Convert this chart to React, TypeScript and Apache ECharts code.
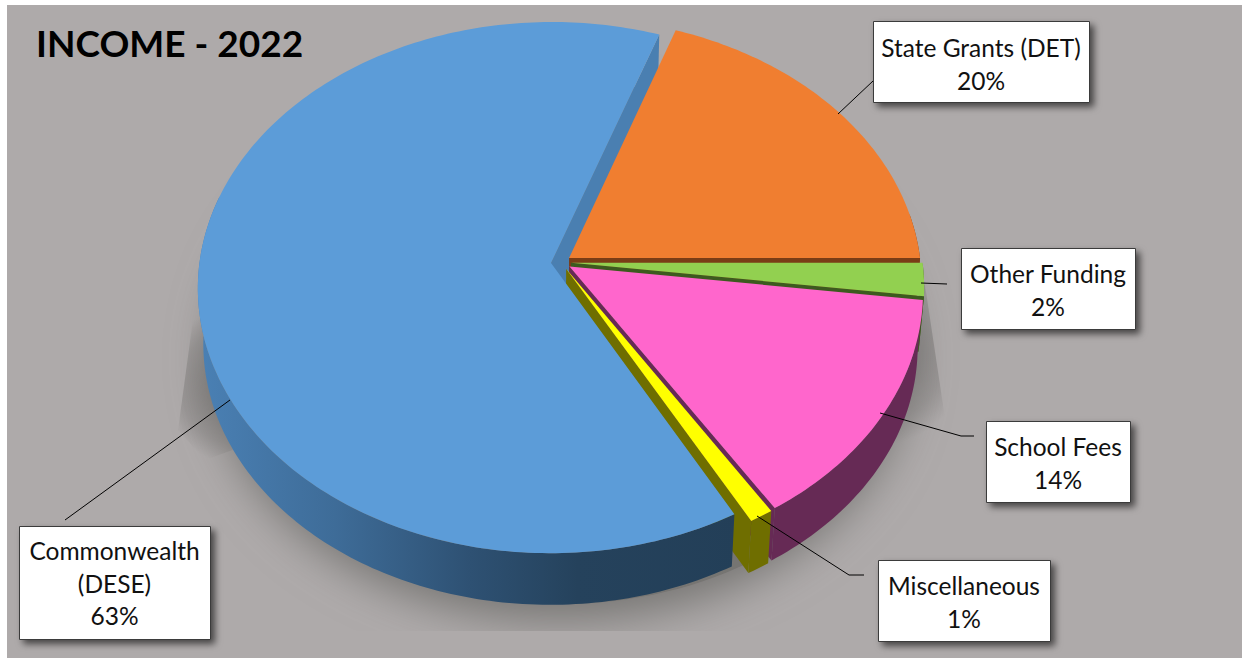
import React, { useEffect, useRef } from "react";
import * as echarts from "echarts";

const categories = ["State Grants (DET)", "Other Funding", "School Fees", "Miscellaneous", "Commonwealth\n(DESE)"];
const shares = [20, 2, 14, 1, 63];
const firstSliceAngle = 18;

const topColors = ["#f07e30", "#92d050", "#ff66cc", "#ffff00", "#5c9cd8"];
const wallColors = ["#7a3d16", "#3d5a1f", "#662a55", "#6f6e00", "#24405a"];

// Callout boxes, in the order of the categories.
const boxes = [
  { x: 873, y: 21, w: 216, h: 81, textY: 64, lead: [[838, 114], [873, 81]] },
  { x: 961, y: 248, w: 174, h: 81, textY: 290, lead: [[921, 283], [947, 284]] },
  { x: 986, y: 421, w: 144, h: 81, textY: 463, lead: [[880, 413], [961, 436], [974, 436]] },
  { x: 878, y: 560, w: 172, h: 81, textY: 602, lead: [[757, 516], [849, 575], [864, 575]] },
  { x: 19, y: 526, w: 191, h: 113, textY: 583, lead: [[230, 400], [65, 520]] },
];

// Perspective model of the pie: a unit disc seen from the front and above.
const CX = 561, CY = 262.4, RX = 351.5, RY = 263.2, TILT = 0.0922;
const EXPLODE = 0.0285, DEPTH = 56, FLOOR_SCALE = 0.985;
// The far rim of the disc drifts clockwise a little under the camera's lens.
const LENS_DRIFT = 1.75;

const total = shares.reduce((a, b) => a + b, 0);
const spans = shares.map((_, i) => {
  const before = shares.slice(0, i).reduce((a, b) => a + b, 0);
  return [firstSliceAngle + (before / total) * 360, firstSliceAngle + ((before + shares[i]) / total) * 360];
});

const rad = (d: number) => (d * Math.PI) / 180;

function lens(deg: number): number {
  const d = ((deg % 360) + 360) % 360;
  if (d < 90) return deg + (LENS_DRIFT * (90 - d)) / 90;
  if (d > 300) return deg + (LENS_DRIFT * (d - 300)) / 60;
  return deg;
}

function project(dx: number, dy: number, floor: boolean): number[] {
  const w = 1 - TILT * dy;
  const s = floor ? FLOOR_SCALE : 1;
  return [CX + (s * RX * dx) / w, CY + (floor ? DEPTH : 0) + (s * RY * dy) / w];
}

function hub(i: number): number[] {
  const mid = rad((spans[i][0] + spans[i][1]) / 2);
  return [EXPLODE * Math.sin(mid), -EXPLODE * Math.cos(mid)];
}

function rim(i: number, deg: number, floor: boolean): number[] {
  const h = hub(i);
  const d = rad(lens(deg));
  return project(h[0] + Math.sin(d), h[1] - Math.cos(d), floor);
}

function arc(i: number, from: number, to: number, floor: boolean): number[][] {
  const out: number[][] = [];
  const n = Math.max(2, Math.ceil(Math.abs(to - from)));
  for (let k = 0; k <= n; k++) out.push(rim(i, from + ((to - from) * k) / n, floor));
  return out;
}

function poly(points: number[][], fill: any) {
  return { type: "polygon", shape: { points }, style: { fill, stroke: null } };
}

function cutFace(i: number, deg: number, fill: any) {
  const h = hub(i);
  return poly([project(h[0], h[1], false), rim(i, deg, false), rim(i, deg, true), project(h[0], h[1], true)], fill);
}

function outerWall(i: number, fill: any) {
  const from = Math.max(spans[i][0], 80);
  const to = Math.min(spans[i][1], 285);
  if (to <= from) return null;
  return poly([...arc(i, from, to, false), ...arc(i, to, from, true)], fill);
}

const blueWall = {
  type: "linear", x: 200, y: 0, x2: 740, y2: 0, global: true,
  colorStops: [
    { offset: 0, color: "#4a80b4" },
    { offset: 0.25, color: "#3e6c98" },
    { offset: 0.5, color: "#2e5173" },
    { offset: 0.7, color: "#25425c" },
    { offset: 1, color: "#233f58" },
  ],
};

function renderSlice(params: any) {
  const i = params.dataIndex;
  const [a, b] = spans[i];
  const children: any[] = [];
  const last = shares.length - 1;
  // The large slice's rear cut shows behind the first slice.
  if (i === 0) children.push(cutFace(last, spans[last][1], "#4a7fb1"));
  if (i !== last) {
    const wall = outerWall(i, wallColors[i]);
    if (wall) children.push(wall);
    children.push(cutFace(i, b, wallColors[i]));
  } else {
    children.push(outerWall(i, blueWall));
  }
  const h = hub(i);
  children.push(poly([project(h[0], h[1], false), ...arc(i, a, b, false)], topColors[i]));
  return { type: "group", children };
}

function renderCallout(params: any) {
  const i = params.dataIndex;
  const box = boxes[i];
  const lines = `${categories[i]}\n${shares[i]}%`;
  return {
    type: "group",
    children: [
      { type: "polyline", shape: { points: box.lead }, style: { stroke: "#000", lineWidth: 1, fill: null } },
      {
        type: "rect",
        shape: { x: box.x + 0.5, y: box.y + 0.5, width: box.w, height: box.h },
        style: {
          fill: "#fff", stroke: "#3a3a3a", lineWidth: 1,
          shadowBlur: 7, shadowOffsetX: 4, shadowOffsetY: 4, shadowColor: "rgba(0,0,0,0.6)",
        },
      },
      {
        type: "text",
        style: {
          text: lines, x: box.x + box.w / 2, y: box.textY,
          align: "center", verticalAlign: "middle",
          font: "24.5px Lato", lineHeight: 32.5, fill: "#111",
        },
      },
    ],
  };
}

const floorOutline = Array.from({ length: 181 }, (_, k) =>
  project(Math.sin(rad(k * 2)), -Math.cos(rad(k * 2)), true)
);

const wingFill = (x: number, y: number, r: number) => ({
  type: "radial", x, y, r, global: true,
  colorStops: [
    { offset: 0, color: "rgba(90,88,86,0.7)" },
    { offset: 0.75, color: "rgba(90,88,86,0.25)" },
    { offset: 1, color: "rgba(90,88,86,0)" },
  ],
});

export default function App() {
  const ref = useRef<HTMLDivElement>(null);
  useEffect(() => {
    document.body.style.margin = "0";
    const chart = echarts.init(ref.current!, null, { renderer: "svg" });
    chart.setOption({
      animation: false,
      title: {
        text: "INCOME - 2022", left: 31, top: 19,
        textStyle: { fontFamily: "Lato", fontWeight: "bold", fontSize: 37, color: "#000" },
      },
      graphic: [
        { type: "rect", shape: { x: 7, y: 5, width: 1235, height: 653 }, style: { fill: "#aeaaaa" } },
        {
          type: "polygon",
          shape: { points: [[197, 290], [178, 430], [205, 460], [260, 440], [260, 300]] },
          style: { fill: wingFill(240, 385, 80) },
        },
        {
          type: "polygon",
          shape: { points: [[925, 285], [946, 425], [915, 460], [860, 440], [860, 300]] },
          style: { fill: wingFill(875, 350, 96) },
        },
        {
          type: "polygon",
          shape: { points: floorOutline },
          style: {
            fill: "#767472", shadowBlur: 44, shadowOffsetY: 16, shadowColor: "rgba(118,116,114,1)",
          },
        },
        // The cast shadow stops at a straight line beneath the pie.
        { type: "rect", shape: { x: 7, y: 631, width: 1235, height: 27 }, style: { fill: "#aeaaaa" } },
      ],
      series: [
        { type: "custom", coordinateSystem: "none", clip: false, z: 2, data: shares, renderItem: renderSlice, silent: true },
        { type: "custom", coordinateSystem: "none", clip: false, z: 4, data: shares, renderItem: renderCallout, silent: true },
      ],
    });
    return () => chart.dispose();
  }, []);
  return <div ref={ref} style={{ position: "absolute", left: 0, top: 0, width: 1242, height: 658 }} />;
}
